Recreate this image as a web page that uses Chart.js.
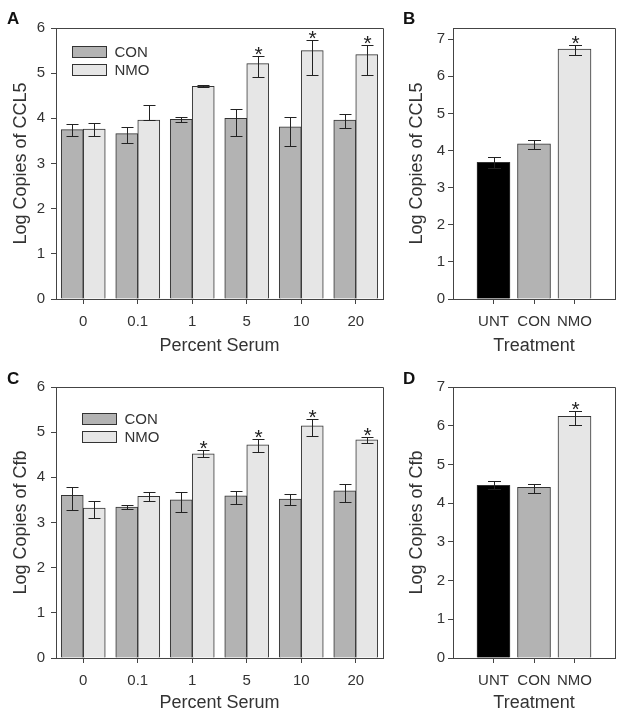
<!DOCTYPE html>
<html>
<head>
<meta charset="utf-8">
<script src="https://cdn.jsdelivr.net/npm/chart.js@4.4.1/dist/chart.umd.min.js"></script>
<style>
  body { margin: 0; background: #fff; width: 624px; height: 718px; position: relative; overflow: hidden;
         font-family: "Liberation Sans", Arial, sans-serif; }
  .panel { position: absolute; }
  .tag { position: absolute; font-weight: bold; font-size: 17px; line-height: 17px; color: #111; }
</style>
</head>
<body>
<div class="panel" style="left:0;top:0"><canvas id="chartA" width="400" height="360"></canvas></div>
<div class="panel" style="left:400px;top:0"><canvas id="chartB" width="224" height="360"></canvas></div>
<div class="panel" style="left:0;top:360px"><canvas id="chartC" width="400" height="358"></canvas></div>
<div class="panel" style="left:400px;top:360px"><canvas id="chartD" width="224" height="358"></canvas></div>
<div class="tag" style="left:7px;top:10px">A</div>
<div class="tag" style="left:403px;top:10px">B</div>
<div class="tag" style="left:7px;top:370px">C</div>
<div class="tag" style="left:403px;top:370px">D</div>
<script>
// categories and tick labels
const serumLevels = ['0', '0.1', '1', '5', '10', '20'];
const treatments = ['UNT', 'CON', 'NMO'];
const serumYTicks = [0, 1, 2, 3, 4, 5, 6];
const treatYTicks = [0, 1, 2, 3, 4, 5, 6, 7];

// CCL5 vs percent serum (bar value, whisker low, whisker high)
const ccl5Con   = [3.75, 3.66, 3.98, 4.00, 3.81, 3.96];
const ccl5ConLo = [3.60, 3.45, 3.91, 3.60, 3.38, 3.79];
const ccl5ConHi = [3.87, 3.80, 4.04, 4.20, 4.02, 4.10];
const ccl5Nmo   = [3.76, 3.96, 4.71, 5.21, 5.50, 5.41];
const ccl5NmoLo = [3.60, 3.96, 4.69, 4.92, 4.97, 4.96];
const ccl5NmoHi = [3.89, 4.30, 4.73, 5.39, 5.74, 5.63];
const ccl5NmoSig = [false, false, false, true, true, true];

// CCL5 by treatment
const ccl5Treat   = [3.68, 4.18, 6.73];
const ccl5TreatLo = [3.53, 4.04, 6.57];
const ccl5TreatHi = [3.83, 4.27, 6.85];
const ccl5TreatSig = [false, false, true];

// Cfb vs percent serum
const cfbCon   = [3.60, 3.34, 3.50, 3.59, 3.52, 3.70];
const cfbConLo = [3.28, 3.29, 3.23, 3.42, 3.39, 3.45];
const cfbConHi = [3.79, 3.38, 3.67, 3.70, 3.62, 3.86];
const cfbNmo   = [3.32, 3.58, 4.52, 4.72, 5.14, 4.83];
const cfbNmoLo = [3.11, 3.47, 4.45, 4.57, 4.91, 4.75];
const cfbNmoHi = [3.48, 3.67, 4.60, 4.85, 5.30, 4.90];
const cfbNmoSig = [false, false, true, true, true, true];

// Cfb by treatment
const cfbTreat   = [4.46, 4.41, 6.24];
const cfbTreatLo = [4.36, 4.27, 6.03];
const cfbTreatHi = [4.56, 4.50, 6.39];
const cfbTreatSig = [false, false, true];

const CON_GREY = '#b3b3b3';
const NMO_GREY = '#e6e6e6';
const AXIS = '#444';

Chart.defaults.font.family = '"Liberation Sans", Arial, sans-serif';
Chart.defaults.color = '#333';

// whiskers + asterisks, read from lo/hi/sig arrays attached to each dataset
const errorBarPlugin = {
    id: 'errorBars',
    afterDatasetsDraw(chart) {
        const ctx = chart.ctx;
        const yScale = chart.scales.y;
        ctx.save();
        ctx.strokeStyle = '#222';
        ctx.lineWidth = 1;
        chart.data.datasets.forEach((ds, d) => {
            const meta = chart.getDatasetMeta(d);
            meta.data.forEach((bar, i) => {
                const x = Math.round(bar.x) + 0.5;
                const yLo = Math.round(yScale.getPixelForValue(ds.lo[i])) + 0.5;
                const yHi = Math.round(yScale.getPixelForValue(ds.hi[i])) + 0.5;
                const cap = ds.capWidth / 2;
                ctx.beginPath();
                ctx.moveTo(x, yLo); ctx.lineTo(x, yHi);
                ctx.moveTo(x - cap, yLo); ctx.lineTo(x + cap, yLo);
                ctx.moveTo(x - cap, yHi); ctx.lineTo(x + cap, yHi);
                ctx.stroke();
                if (ds.sig && ds.sig[i]) {
                    ctx.fillStyle = '#222';
                    ctx.font = '21px "Liberation Sans", Arial, sans-serif';
                    ctx.textAlign = 'center';
                    ctx.textBaseline = 'alphabetic';
                    ctx.fillText('*', x, yHi + 4);
                }
            });
        });
        ctx.restore();
    }
};

// closes the box round the plot area
const framePlugin = {
    id: 'frame',
    afterDraw(chart) {
        const a = chart.chartArea;
        const ctx = chart.ctx;
        ctx.save();
        ctx.strokeStyle = AXIS;
        ctx.lineWidth = 1;
        ctx.beginPath();
        ctx.moveTo(a.left, Math.round(a.top) + 0.5);
        ctx.lineTo(Math.round(a.right) + 0.5, Math.round(a.top) + 0.5);
        ctx.lineTo(Math.round(a.right) + 0.5, a.bottom);
        ctx.stroke();
        ctx.restore();
    }
};

// legend drawn inside the plot area
const boxLegendPlugin = {
    id: 'boxLegend',
    afterDraw(chart, args, opts) {
        if (!opts || !opts.show) return;
        const ctx = chart.ctx;
        const a = chart.chartArea;
        ctx.save();
        chart.data.datasets.forEach((ds, i) => {
            const x = Math.round(a.left + opts.dx) + 0.5;
            const y = Math.round(a.top + opts.dy + i * opts.gap) + 0.5;
            ctx.fillStyle = ds.backgroundColor;
            ctx.fillRect(x, y, 34, 11);
            ctx.strokeStyle = '#333';
            ctx.strokeRect(x, y, 34, 11);
            ctx.fillStyle = '#333';
            ctx.font = '15px "Liberation Sans", Arial, sans-serif';
            ctx.textAlign = 'left';
            ctx.textBaseline = 'middle';
            ctx.fillText(ds.label, x + 42, y + 6);
        });
        ctx.restore();
    }
};

function fixedTicks(values) {
    return (s) => { s.ticks = values.map(v => ({ value: v })); };
}

function serumChart(id, yTitle, con, conLo, conHi, nmo, nmoLo, nmoHi, nmoSig, pad, legendPos) {
    return new Chart(document.getElementById(id), {
        type: 'bar',
        data: {
            labels: serumLevels,
            datasets: [
                { label: 'CON', data: con, lo: conLo, hi: conHi, capWidth: 12,
                  backgroundColor: CON_GREY, borderColor: '#333', borderWidth: 1, barThickness: 22 },
                { label: 'NMO', data: nmo, lo: nmoLo, hi: nmoHi, sig: nmoSig, capWidth: 12,
                  backgroundColor: NMO_GREY, borderColor: '#333', borderWidth: 1, barThickness: 22 }
            ]
        },
        options: {
            responsive: false,
            animation: false,
            layout: { padding: { left: 0, top: pad.top, right: 17, bottom: 0 } },
            plugins: {
                legend: { display: false },
                tooltip: { enabled: false },
                boxLegend: { show: true, dx: legendPos.dx, dy: legendPos.dy, gap: 18 }
            },
            scales: {
                x: {
                    offset: true,
                    grid: { offset: false, drawOnChartArea: false, tickLength: 5, color: AXIS },
                    border: { color: AXIS },
                    ticks: { padding: 9, font: { size: 15 }, color: '#333', maxRotation: 0 },
                    title: { display: true, text: 'Percent Serum', font: { size: 18 },
                             color: '#333', padding: { bottom: pad.xTitle } },
                    afterFit: (s) => { s.height = pad.xHeight; }
                },
                y: {
                    min: 0, max: serumYTicks[serumYTicks.length - 1],
                    afterBuildTicks: fixedTicks(serumYTicks),
                    ticks: { padding: 6, font: { size: 15 }, color: '#333' },
                    grid: { drawOnChartArea: false, tickLength: 5, color: AXIS },
                    border: { color: AXIS },
                    title: { display: true, text: yTitle, font: { size: 18 },
                             color: '#333', padding: { top: 10 } },
                    afterFit: (s) => { s.width = 56; }
                }
            }
        },
        plugins: [errorBarPlugin, framePlugin, boxLegendPlugin]
    });
}

function treatChart(id, yTitle, vals, lo, hi, sig, yMax, pad) {
    return new Chart(document.getElementById(id), {
        type: 'bar',
        data: {
            datasets: [{
                label: 'Treatment',
                data: vals.map((v, i) => ({ x: i + 1, y: v })),
                lo: lo, hi: hi, sig: sig, capWidth: 13,
                backgroundColor: ['#000000', CON_GREY, NMO_GREY],
                borderColor: '#333', borderWidth: 1, barThickness: 33
            }]
        },
        options: {
            responsive: false,
            animation: false,
            layout: { padding: { left: 0, top: pad.top, right: 9, bottom: 0 } },
            plugins: { legend: { display: false }, tooltip: { enabled: false } },
            scales: {
                x: {
                    type: 'linear', min: 0, max: treatments.length + 1, offset: false,
                    afterBuildTicks: fixedTicks(treatments.map((t, i) => i + 1)),
                    ticks: { callback: (v) => treatments[v - 1], padding: 9,
                             font: { size: 15 }, color: '#333', maxRotation: 0, autoSkip: false },
                    grid: { offset: false, drawOnChartArea: false, tickLength: 5, color: AXIS },
                    border: { color: AXIS },
                    title: { display: true, text: 'Treatment', font: { size: 18 },
                             color: '#333', padding: { bottom: pad.xTitle } },
                    afterFit: (s) => { s.height = pad.xHeight; }
                },
                y: {
                    min: 0, max: yMax,
                    afterBuildTicks: fixedTicks(treatYTicks),
                    ticks: { padding: 3, font: { size: 15 }, color: '#333' },
                    grid: { drawOnChartArea: false, tickLength: 5, color: AXIS },
                    border: { color: AXIS },
                    title: { display: true, text: yTitle, font: { size: 18 },
                             color: '#333', padding: { top: 6 } },
                    afterFit: (s) => { s.width = 53; }
                }
            }
        },
        plugins: [errorBarPlugin, framePlugin]
    });
}

serumChart('chartA', 'Log Copies of CCL5', ccl5Con, ccl5ConLo, ccl5ConHi,
           ccl5Nmo, ccl5NmoLo, ccl5NmoHi, ccl5NmoSig,
           { top: 28, xHeight: 61, xTitle: 3 }, { dx: 16, dy: 18 });
treatChart('chartB', 'Log Copies of CCL5', ccl5Treat, ccl5TreatLo, ccl5TreatHi, ccl5TreatSig, 7.3,
           { top: 28, xHeight: 61, xTitle: 3 });
serumChart('chartC', 'Log Copies of Cfb', cfbCon, cfbConLo, cfbConHi,
           cfbNmo, cfbNmoLo, cfbNmoHi, cfbNmoSig,
           { top: 27, xHeight: 60, xTitle: 4 }, { dx: 26, dy: 26 });
treatChart('chartD', 'Log Copies of Cfb', cfbTreat, cfbTreatLo, cfbTreatHi, cfbTreatSig, 7,
           { top: 27, xHeight: 60, xTitle: 4 });
</script>
</body>
</html>
